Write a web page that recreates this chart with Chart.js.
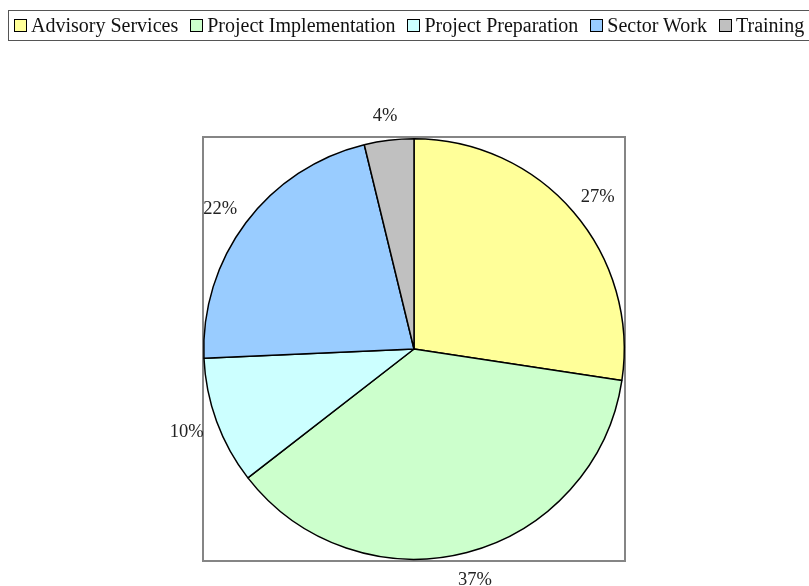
<!DOCTYPE html>
<html>
<head>
<meta charset="utf-8">
<script src="https://cdn.jsdelivr.net/npm/chart.js@4/dist/chart.umd.min.js"></script>
<style>
    body { margin: 0; background: #fff; overflow: hidden; }
    #wrap { position: relative; width: 809px; height: 586px; }
    #legend {
        position: absolute; left: 8px; top: 10px; height: 31px; width: 860px;
        border: 1.5px solid #555; box-sizing: border-box;
        display: flex; align-items: center; white-space: nowrap; padding-left: 5px;
        font-family: "Liberation Serif", serif; font-size: 20px; color: #111;
    }
    .item { display: flex; align-items: center; margin-right: 12px; }
    .box { width: 11px; height: 11px; border: 1.5px solid #000; margin-right: 4px; }
</style>
</head>
<body>
<div id="wrap">
    <canvas id="chart" width="809" height="586"></canvas>
    <div id="legend"></div>
</div>
<script>
const categories = ['Advisory Services', 'Project Implementation', 'Project Preparation', 'Sector Work', 'Training'];
const shares = [27.4, 37.1, 9.8, 21.9, 3.8];
const pctLabels = ['27%', '37%', '10%', '22%', '4%'];
const colors = ['#FFFF99', '#CCFFCC', '#CCFFFF', '#99CCFF', '#C0C0C0'];

// html legend
const legend = document.getElementById('legend');
categories.forEach((name, i) => {
    const item = document.createElement('div');
    item.className = 'item';
    item.innerHTML = '<span class="box" style="background:' + colors[i] + '"></span>' + name;
    legend.appendChild(item);
});

const frame = {
    id: 'frame',
    beforeDatasetsDraw(chart) {
        const a = chart.chartArea;
        const ctx = chart.ctx;
        ctx.save();
        ctx.strokeStyle = '#858585';
        ctx.lineWidth = 2;
        ctx.strokeRect(a.left, a.top, a.right - a.left, a.bottom - a.top);
        ctx.restore();
    }
};

const outsideLabels = {
    id: 'outsideLabels',
    afterDatasetsDraw(chart) {
        const ctx = chart.ctx;
        const meta = chart.getDatasetMeta(0);
        ctx.save();
        ctx.font = '18.5px "Liberation Serif"';
        ctx.fillStyle = '#222';
        ctx.textAlign = 'center';
        ctx.textBaseline = 'middle';
        meta.data.forEach((arc, i) => {
            const mid = (arc.startAngle + arc.endAngle) / 2;
            const rx = arc.outerRadius + 32;
            const ry = arc.outerRadius + 26;
            ctx.fillText(pctLabels[i], arc.x + Math.cos(mid) * rx, arc.y + Math.sin(mid) * ry + 2);
        });
        ctx.restore();
    }
};

new Chart(document.getElementById('chart'), {
    type: 'pie',
    data: {
        labels: categories,
        datasets: [{
            data: shares,
            backgroundColor: colors,
            borderColor: '#000',
            borderWidth: 1.5,
        }]
    },
    options: {
        responsive: false,
        animation: false,
        layout: { padding: { left: 203, right: 184, top: 137, bottom: 25 } },
        plugins: {
            legend: { display: false },
            tooltip: { enabled: false },
        }
    },
    plugins: [frame, outsideLabels]
});
</script>
</body>
</html>
